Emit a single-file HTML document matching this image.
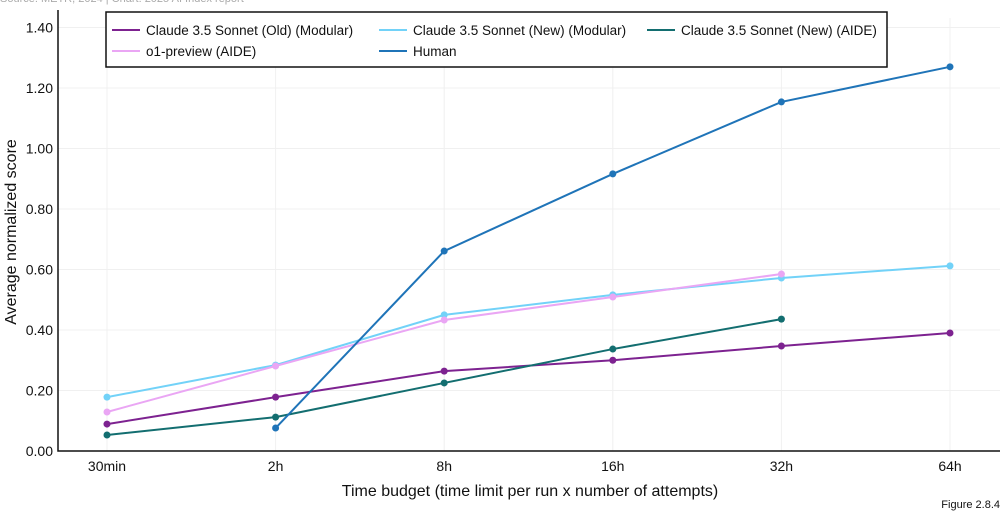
<!DOCTYPE html>
<html><head><meta charset="utf-8"><style>
body{margin:0;background:#fff;width:1006px;height:513px;overflow:hidden;font-family:"Liberation Sans",sans-serif}
svg text{font-family:"Liberation Sans",sans-serif}
</style></head><body>
<svg id="chart" width="1006" height="513" xmlns="http://www.w3.org/2000/svg"></svg>
<script>
const categories=["30min","2h","8h","16h","32h","64h"];
const oldModular=[0.089,0.178,0.264,0.30,0.347,0.39];
const newModular=[0.178,0.284,0.45,0.516,0.572,0.612];
const newAide=[0.053,0.112,0.225,0.337,0.436,null];
const o1Aide=[0.129,0.281,0.433,0.509,0.585,null];
const human=[null,0.076,0.661,0.916,1.154,1.27];
const yTicks=[0,0.2,0.4,0.6,0.8,1.0,1.2,1.4];
const seriesNames=["Claude 3.5 Sonnet (Old) (Modular)","Claude 3.5 Sonnet (New) (Modular)","Claude 3.5 Sonnet (New) (AIDE)","o1-preview (AIDE)","Human"];
const seriesData=[oldModular,newModular,newAide,o1Aide,human];
const colors=["#7d2290","#72d2f8","#136e70","#eaa6f4","#1f74b8"];
const svg=document.getElementById('chart');
const NS="http://www.w3.org/2000/svg";
const L=58,R=1000,T=18,B=451;
const x=i=>107+i*168.6;
const y=v=>B-v/1.4*(B-27.5);
function mk(t,a,parent){const e=document.createElementNS(NS,t);for(const k in a)e.setAttribute(k,a[k]);(parent||svg).appendChild(e);return e;}
const head=mk('text',{x:0,y:2,'font-size':11,fill:'#aaa'});head.textContent="Source: METR, 2024 | Chart: 2025 AI Index report";


yTicks.forEach(v=>{
 const g=mk('line',{x1:L,x2:R,y1:y(v),y2:y(v),stroke:'#f0f0f0'});
 
 
 const t=mk('text',{x:53,y:y(v)+5,'text-anchor':'end','font-size':14,fill:'#111'});t.textContent=v.toFixed(2);
 
 
});
categories.forEach((c,i)=>{
 const g=mk('line',{x1:x(i),x2:x(i),y1:T,y2:B,stroke:'#f0f0f0'});
 
 
 const t=mk('text',{x:x(i),y:471,'text-anchor':'middle','font-size':14,fill:'#111'});t.textContent=c;
 
 
});
const ax=mk('path',{d:`M${L} 10 V${B} H${R}`,fill:'none',stroke:'#111','stroke-width':1.5});


seriesData.forEach((d,s)=>{
 let pts=[];d.forEach((v,i)=>{if(v!==null)pts.push([x(i),y(v)]);});
 const p=mk('polyline',{points:pts.map(p=>p.join(',')).join(' '),fill:'none',stroke:colors[s],'stroke-width':2});
 
 
 pts.forEach(q=>{const c=mk('circle',{cx:q[0],cy:q[1],r:3.5,fill:colors[s]});
  
  });
});
const lg=mk('g',{});


mk('rect',{x:106,y:12,width:781,height:55,fill:'#fff',stroke:'#111','stroke-width':1.5},lg);
const lpos=[[112,31],[379,31],[647,31],[112,52],[379,52]];
seriesNames.forEach((n,s)=>{
 const e=mk('g',{},lg);
 
 
 mk('line',{x1:lpos[s][0],x2:lpos[s][0]+28,y1:lpos[s][1]-1,y2:lpos[s][1]-1,stroke:colors[s],'stroke-width':2},e);
 const t=mk('text',{x:lpos[s][0]+34,y:lpos[s][1]+4,'font-size':13.5,fill:'#111'},e);t.textContent=n;
});
const xt=mk('text',{x:530,y:496,'text-anchor':'middle','font-size':16,fill:'#111'});xt.textContent="Time budget (time limit per run x number of attempts)";


const yt=mk('text',{x:16,y:232,'text-anchor':'middle','font-size':16,fill:'#111',transform:'rotate(-90 16 232)'});yt.textContent="Average normalized score";


const fg=mk('text',{x:1000,y:508,'text-anchor':'end','font-size':11,fill:'#111'});fg.textContent="Figure 2.8.4";


</script>
</body></html>
